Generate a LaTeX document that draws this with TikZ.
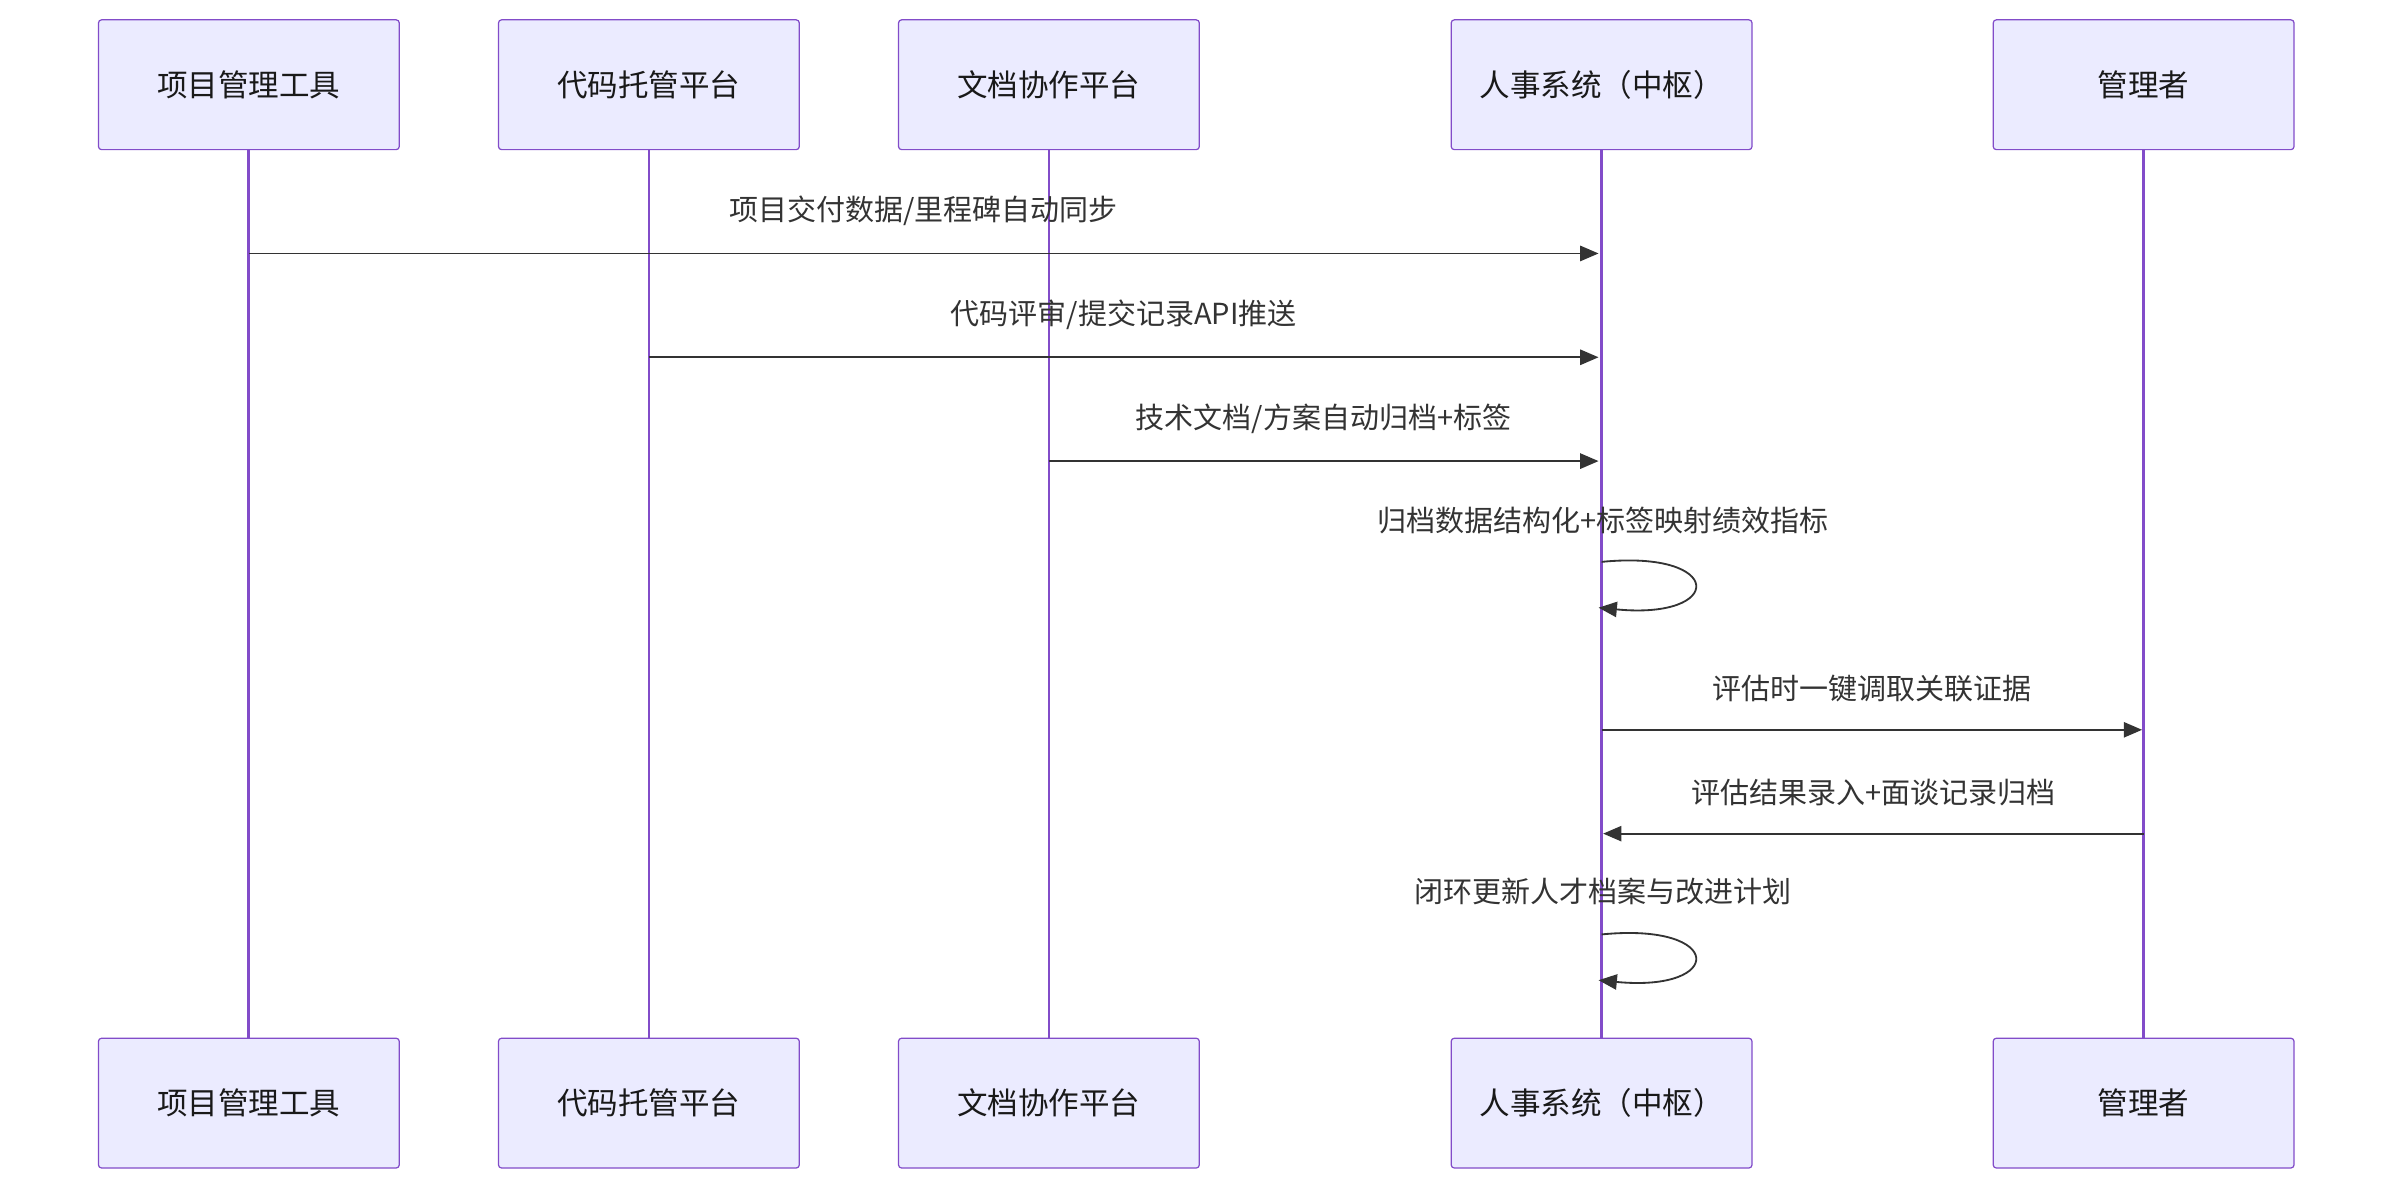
\documentclass[tikz,border=0pt]{standalone}
\usepackage{fontspec}
\setmainfont{Noto Sans CJK SC}
\usetikzlibrary{arrows.meta}
\begin{document}
\begin{tikzpicture}[x=1pt,y=-1pt,
 actor/.style={draw=violet!60!blue!70, fill=blue!8, rounded corners=2pt, line width=0.8pt, minimum width=197pt, minimum height=85pt, font=\fontsize{20}{24}\selectfont, text=black!90},
 life/.style={draw=violet!60!blue!70!white, line width=1.8pt},
 msg/.style={draw=black!80, line width=1.2pt, -{Triangle[length=12pt,width=10pt]}},
 lbl/.style={font=\fontsize{19}{23}\selectfont, text=black!80}]
\useasboundingbox (0,0) rectangle (1568,780);
\foreach \n/\x/\t in {a/163/项目管理工具, b/425/代码托管平台, c/687/文档协作平台, d/1049/人事系统（中枢）, e/1404/管理者/评估者}{
  \draw[life] (\x,98) -- (\x,680);
  \node[actor] (\n top) at (\x,55.5) {\t};
  \node[actor] (\n bot) at (\x,722.5) {\t};
}
\coordinate (a1) at (163,166); \coordinate (d1) at (1047,166);
\draw[msg] (a1) -- (d1) node[lbl,midway,above=14pt] {项目交付数据/里程碑自动同步};
\coordinate (b1) at (425,234); \coordinate (d2) at (1047,234);
\draw[msg] (b1) -- (d2) node[lbl,midway,above=14pt] {代码评审/提交记录API推送};
\coordinate (c1) at (687,302); \coordinate (d3) at (1047,302);
\draw[msg] (c1) -- (d3) node[lbl,midway,above=14pt] {技术文档/方案自动归档+标签};
\coordinate (d4) at (1049,368); \coordinate (d4e) at (1047,398);
\node[lbl] (s1) at (1050,341) {归档数据结构化+标签映射绩效指标};
\draw[msg] (d4) .. controls (1130,360) and (1130,406) .. (d4e);
\coordinate (d5) at (1049,478); \coordinate (e1) at (1403,478);
\draw[msg] (d5) -- (e1) node[lbl,midway,above=14pt] {评估时一键调取关联证据};
\coordinate (e2) at (1404,546); \coordinate (d6) at (1050,546);
\draw[msg] (e2) -- (d6) node[lbl,midway,above=14pt] {评估结果录入+面谈记录归档};
\coordinate (d7) at (1049,612); \coordinate (d7e) at (1047,642);
\node[lbl] (s2) at (1050,584) {闭环更新人才档案与改进计划};
\draw[msg] (d7) .. controls (1130,604) and (1130,650) .. (d7e);
\end{tikzpicture}
\end{document}
